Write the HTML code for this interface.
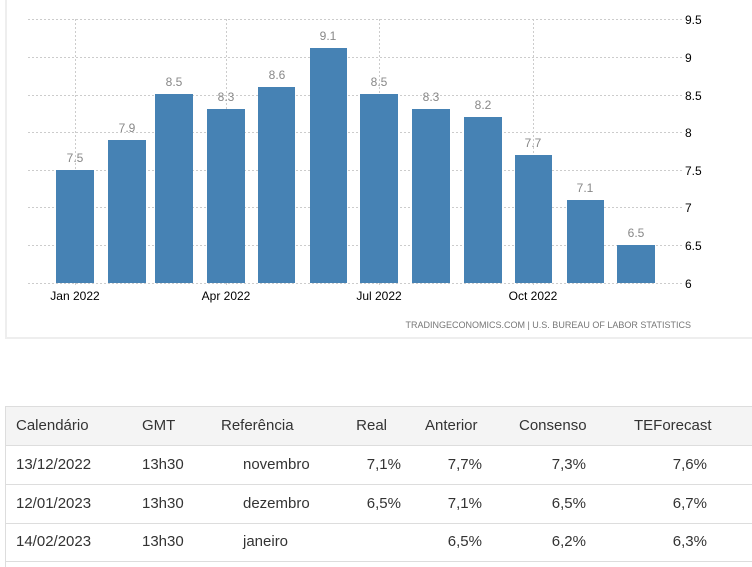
<!DOCTYPE html>
<html><head><meta charset="utf-8"><style>
body{margin:0;width:752px;height:562px;background:#fff;overflow:hidden;font-family:"Liberation Sans",Arial,sans-serif;position:relative}
.panel{position:absolute;left:5px;top:-2px;width:760px;height:341px;border-left:2px solid #eee;border-bottom:2px solid #eee;box-sizing:border-box}
svg{position:absolute;left:0;top:0}
.tb{position:absolute;left:5px;top:406px;width:760px;height:160px;border-left:1px solid #ddd;border-top:1px solid #ddd}
.row{position:absolute;left:0;width:760px;height:38px;border-bottom:1px solid #ddd;font-size:15px;color:#333}
.row span{position:absolute;top:10px;white-space:nowrap}
.r{text-align:right}
</style></head><body>
<div class="panel"></div>
<svg width="752" height="345" font-family="Liberation Sans, Arial, sans-serif">
<g stroke="#ccc" stroke-dasharray="2,2" stroke-width="1">
<line x1="28" x2="683" y1="19.5" y2="19.5"/><line x1="28" x2="683" y1="57.5" y2="57.5"/>
<line x1="28" x2="683" y1="95.5" y2="95.5"/><line x1="28" x2="683" y1="132.5" y2="132.5"/>
<line x1="28" x2="683" y1="170.5" y2="170.5"/><line x1="28" x2="683" y1="207.5" y2="207.5"/>
<line x1="28" x2="683" y1="245.5" y2="245.5"/><line x1="28" x2="683" y1="283.5" y2="283.5"/>
<line x1="75.5" x2="75.5" y1="19" y2="287"/><line x1="226.5" x2="226.5" y1="19" y2="287"/>
<line x1="379.5" x2="379.5" y1="19" y2="287"/><line x1="533.5" x2="533.5" y1="19" y2="287"/>
</g>
<g fill="#4682b4">
<rect x="56" y="170" width="38" height="113"/><rect x="108" y="140" width="38" height="143"/>
<rect x="155" y="94" width="38" height="189"/><rect x="207" y="109" width="38" height="174"/>
<rect x="258" y="87" width="37" height="196"/><rect x="310" y="48" width="37" height="235"/>
<rect x="360" y="94" width="38" height="189"/><rect x="412" y="109" width="38" height="174"/>
<rect x="464" y="117" width="38" height="166"/><rect x="515" y="155" width="37" height="128"/>
<rect x="567" y="200" width="37" height="83"/><rect x="617" y="245" width="38" height="38"/>
</g>
<g fill="#888" font-size="12" text-anchor="middle">
<text x="75" y="162">7.5</text><text x="127" y="132">7.9</text><text x="174" y="86">8.5</text>
<text x="226" y="101">8.3</text><text x="277" y="79">8.6</text><text x="328" y="40">9.1</text>
<text x="379" y="86">8.5</text><text x="431" y="101">8.3</text><text x="483" y="109">8.2</text>
<text x="533" y="147">7.7</text><text x="585" y="192">7.1</text><text x="636" y="237">6.5</text>
</g>
<g fill="#000" font-size="12">
<text x="685" y="24">9.5</text><text x="685" y="62">9</text><text x="685" y="100">8.5</text>
<text x="685" y="137">8</text><text x="685" y="175">7.5</text><text x="685" y="212">7</text>
<text x="685" y="250">6.5</text><text x="685" y="288">6</text>
</g>
<g fill="#000" font-size="12" text-anchor="middle">
<text x="75" y="300">Jan 2022</text><text x="226" y="300">Apr 2022</text>
<text x="379" y="300">Jul 2022</text><text x="533" y="300">Oct 2022</text>
</g>
<text x="691" y="328" fill="#777" font-size="9" text-anchor="end">TRADINGECONOMICS.COM  |  U.S. BUREAU OF LABOR STATISTICS</text>
</svg>
<div class="tb">
<div class="row" style="top:0;background:#f4f4f4">
<span style="left:10px">Calendário</span><span style="left:136px">GMT</span><span style="left:215px">Referência</span>
<span style="right:379px">Real</span><span style="left:419px">Anterior</span><span style="left:513px">Consenso</span><span style="left:628px">TEForecast</span></div>
<div class="row" style="top:39px">
<span style="left:10px">13/12/2022</span><span style="left:136px">13h30</span><span style="left:237px">novembro</span>
<span style="right:365px">7,1%</span><span style="right:284px">7,7%</span><span style="right:180px">7,3%</span><span style="right:59px">7,6%</span></div>
<div class="row" style="top:78px">
<span style="left:10px">12/01/2023</span><span style="left:136px">13h30</span><span style="left:237px">dezembro</span>
<span style="right:365px">6,5%</span><span style="right:284px">7,1%</span><span style="right:180px">6,5%</span><span style="right:59px">6,7%</span></div>
<div class="row" style="top:116px">
<span style="left:10px">14/02/2023</span><span style="left:136px">13h30</span><span style="left:237px">janeiro</span>
<span style="right:284px">6,5%</span><span style="right:180px">6,2%</span><span style="right:59px">6,3%</span></div>
</div>
</body></html>
